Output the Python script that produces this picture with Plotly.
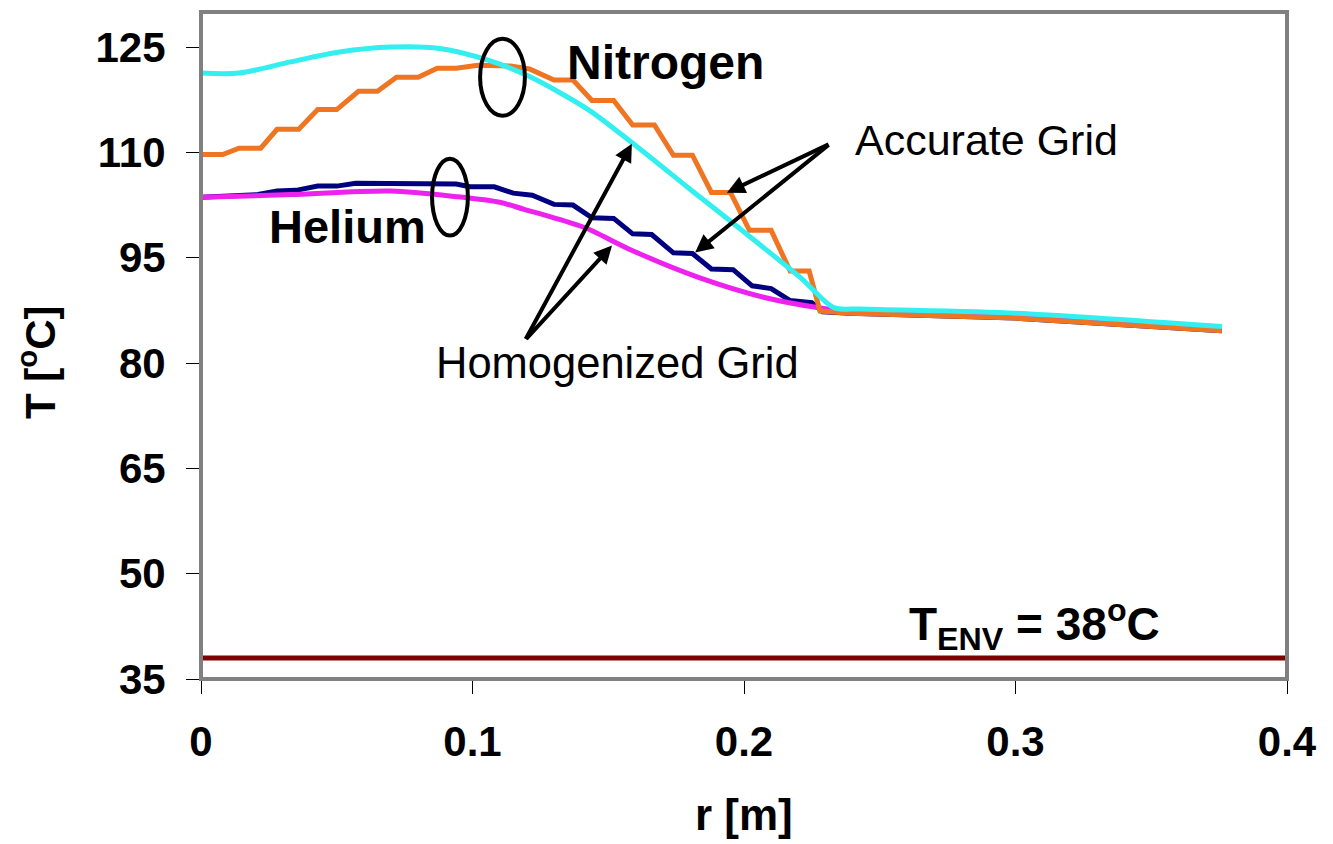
import plotly.graph_objects as go

# ---- data ----
r_n2_acc = [0, 0.008, 0.014, 0.022, 0.028, 0.036, 0.043, 0.050, 0.058, 0.065, 0.072, 0.080,
            0.087, 0.094, 0.102, 0.114, 0.121, 0.130, 0.137, 0.144, 0.152, 0.159, 0.167, 0.174,
            0.181, 0.188, 0.195, 0.202, 0.210, 0.217, 0.224, 0.228, 0.239, 0.300, 0.376]
T_n2_acc = [109.7, 109.7, 110.6, 110.6, 113.3, 113.3, 116.1, 116.1, 118.7, 118.7, 120.7, 120.7,
            122.0, 122.0, 122.4, 122.3, 121.9, 120.3, 120.3, 117.4, 117.4, 113.9, 113.9, 109.6,
            109.6, 104.3, 104.3, 98.9, 98.9, 93.1, 93.1, 87.4, 87.1, 86.4, 84.6]

r_n2_hom = [0, 0.014, 0.033, 0.051, 0.070, 0.088, 0.106, 0.121, 0.143, 0.159, 0.180, 0.196,
            0.221, 0.233, 0.243, 0.300, 0.376]
T_n2_hom = [121.3, 121.3, 122.9, 124.3, 125.0, 124.8, 123.1, 120.8, 116.0, 111.3, 104.8, 99.9,
            92.1, 87.9, 87.7, 87.1, 85.2]

r_he_acc = [0, 0.012, 0.021, 0.028, 0.035, 0.043, 0.050, 0.057, 0.082, 0.094, 0.099, 0.108,
            0.115, 0.122, 0.130, 0.137, 0.144, 0.152, 0.159, 0.166, 0.174, 0.181, 0.188, 0.196,
            0.203, 0.210, 0.217, 0.225, 0.229, 0.239, 0.300, 0.376]
T_he_acc = [103.6, 103.8, 104.0, 104.5, 104.6, 105.2, 105.2, 105.6, 105.6, 105.5, 105.1, 105.1,
            104.2, 103.9, 102.6, 102.5, 100.7, 100.6, 98.4, 98.3, 95.7, 95.6, 93.4, 93.3,
            91.0, 90.6, 88.9, 88.6, 87.3, 87.1, 86.4, 84.6]

r_he_hom = [0, 0.033, 0.070, 0.094, 0.110, 0.119, 0.135, 0.142, 0.159, 0.184, 0.208, 0.227,
            0.239, 0.300, 0.376]
T_he_hom = [103.6, 104.0, 104.5, 103.7, 102.9, 101.9, 100.1, 99.2, 96.0, 92.1, 89.3, 87.9,
            87.3, 86.5, 84.7]

r_env = [0, 0.4]
T_env = [38, 38]

x_ticks = [0, 0.1, 0.2, 0.3, 0.4]
x_tick_labels = ["0", "0.1", "0.2", "0.3", "0.4"]
y_ticks = [35, 50, 65, 80, 95, 110, 125]
y_tick_labels = ["35", "50", "65", "80", "95", "110", "125"]

ORANGE = "#F07522"
CYAN = "#33EFEF"
NAVY = "#000080"
MAGENTA = "#EE22EE"
DARKRED = "#7F0000"
LW = 5

fig = go.Figure()
fig.add_trace(go.Scatter(x=r_env, y=T_env, mode="lines", line=dict(color=DARKRED, width=5)))
fig.add_trace(go.Scatter(x=r_he_acc, y=T_he_acc, mode="lines", line=dict(color=NAVY, width=LW)))
fig.add_trace(go.Scatter(x=r_he_hom, y=T_he_hom, mode="lines",
                         line=dict(color=MAGENTA, width=LW, shape="spline", smoothing=0.8)))
fig.add_trace(go.Scatter(x=r_n2_acc, y=T_n2_acc, mode="lines", line=dict(color=ORANGE, width=LW)))
fig.add_trace(go.Scatter(x=r_n2_hom, y=T_n2_hom, mode="lines",
                         line=dict(color=CYAN, width=LW, shape="spline", smoothing=0.8)))

FONT = "Liberation Sans, Arial, sans-serif"

annotations = []
# labels
annotations.append(dict(x=0.171, y=122.8, xref="x", yref="y", text="<b>Nitrogen</b>", showarrow=False,
                        font=dict(family=FONT, size=48, color="black")))
annotations.append(dict(x=0.054, y=99.5, xref="x", yref="y", text="<b>Helium</b>", showarrow=False,
                        font=dict(family=FONT, size=47, color="black")))
annotations.append(dict(x=0.2895, y=111.8, xref="x", yref="y", text="Accurate Grid", showarrow=False,
                        font=dict(family=FONT, size=43, color="black")))
annotations.append(dict(x=0.1535, y=80.0, xref="x", yref="y", text="Homogenized Grid", showarrow=False,
                        font=dict(family=FONT, size=43.5, color="black")))
annotations.append(dict(x=0.307, y=37.9, xref="x", yref="y", yanchor="bottom",
                        text="<b>T<sub>ENV</sub> = 38<sup>o</sup>C</b>", showarrow=False,
                        font=dict(family=FONT, size=46, color="black")))

# arrows (head position, tail position)
arrows = [((0.1937, 104.27), (0.2317, 111.24)),
          ((0.1820, 95.74), (0.2317, 111.24)),
          ((0.1587, 111.24), (0.1193, 83.22)),
          ((0.1514, 96.74), (0.1193, 83.22))]
for (hx, hy), (tx, ty) in arrows:
    annotations.append(dict(x=hx, y=hy, ax=tx, ay=ty, xref="x", yref="y", axref="x", ayref="y",
                            text="", showarrow=True, arrowhead=2, arrowsize=0.9, arrowwidth=4,
                            arrowcolor="black"))

# axis titles
annotations.append(dict(x=0.5, y=-(814 - 679) / 667, xref="paper", yref="paper",
                        xanchor="center", yanchor="middle",
                        text="<b>r [m]</b>", showarrow=False,
                        font=dict(family=FONT, size=44, color="black")))
annotations.append(dict(x=-(201 - 37) / 1086, y=(679 - 362) / 667, xref="paper", yref="paper",
                        xanchor="center", yanchor="middle",
                        text="<b>T [<sup>o</sup>C]</b>", showarrow=False, textangle=-90,
                        font=dict(family=FONT, size=42, color="black")))

shapes = [
    dict(type="circle", xref="x", yref="y", x0=0.1028, x1=0.1193, y0=115.23, y1=126.18,
         line=dict(color="black", width=4)),
    dict(type="circle", xref="x", yref="y", x0=0.0851, x1=0.0983, y0=98.16, y1=109.11,
         line=dict(color="black", width=4)),
    dict(type="rect", xref="paper", yref="paper", x0=0, x1=1, y0=0, y1=1,
         line=dict(color="#808080", width=4), layer="above"),
]

# the page body has an 8px margin, so the figure is drawn 8px smaller and offset
fig.update_layout(
    width=1325, height=836,
    margin=dict(l=193, r=46, t=4, b=165),
    paper_bgcolor="white", plot_bgcolor="white",
    showlegend=False,
    annotations=annotations,
    shapes=shapes,
    xaxis=dict(range=[0, 0.4], tickvals=x_ticks, ticktext=x_tick_labels,
               showgrid=False, zeroline=False, showline=True, linecolor="black", linewidth=1,
               ticks="outside", ticklen=14, tickcolor="black", tickwidth=1,
               tickfont=dict(family=FONT, size=42, color="black", weight="bold"),
               ticklabelstandoff=12),
    yaxis=dict(range=[35, 130], tickvals=y_ticks, ticktext=y_tick_labels,
               showgrid=False, zeroline=False, showline=False,
               ticks="outside", ticklen=14, tickcolor="black", tickwidth=1,
               tickfont=dict(family=FONT, size=42, color="black", weight="bold"),
               ticklabelstandoff=12),
)

fig.write_html("out.html")
